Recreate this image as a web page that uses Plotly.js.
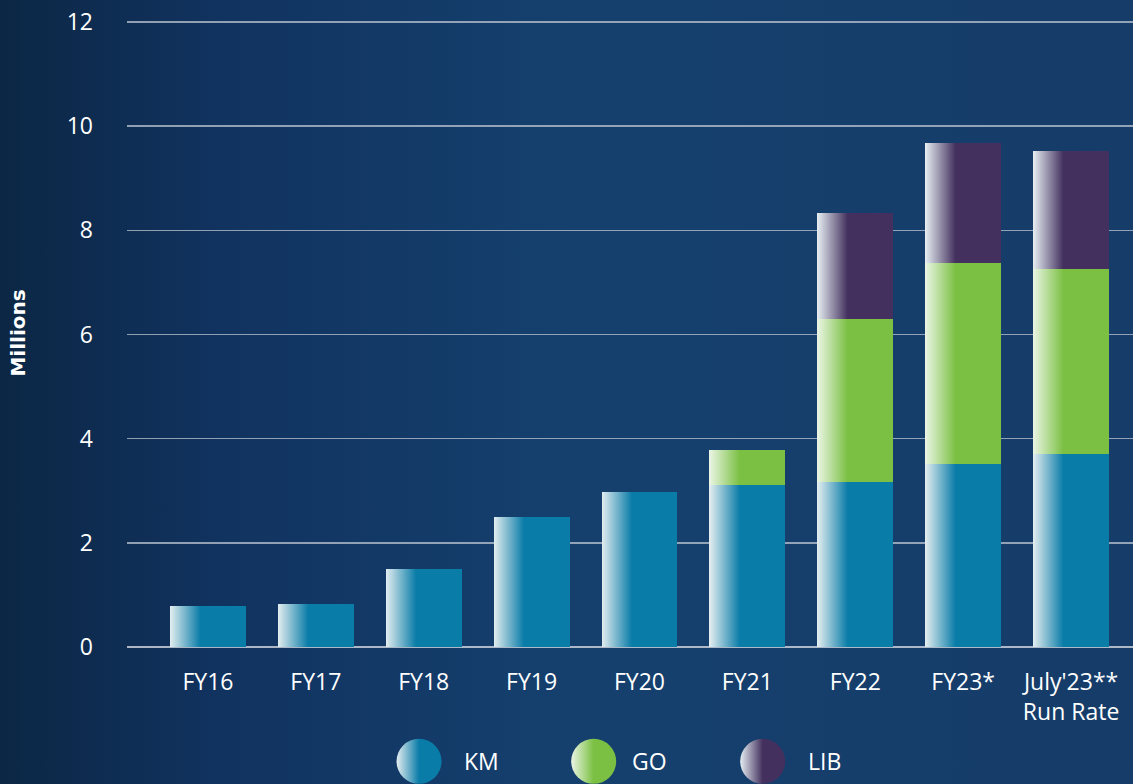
<!DOCTYPE html>
<html><head><meta charset="utf-8">
<script src="https://cdn.plot.ly/plotly-3.0.1.min.js"></script>
<style>
html,body{margin:0;padding:0;width:1133px;height:784px;overflow:hidden;
background:linear-gradient(90deg,#0c2745 0%,#113360 20%,#15406e 50%,#163c69 100%);}
#chart{width:1133px;height:784px;}
</style>
</head><body><div id="chart"></div>
<script>
const categories = ['FY16','FY17','FY18','FY19','FY20','FY21','FY22','FY23*',"July'23**<br>Run Rate"];
const kmValues  = [0.78, 0.83, 1.50, 2.50, 2.98, 3.11, 3.17, 3.51, 3.71];
const goValues  = [null, null, null, null, null, 0.67, 3.13, 3.86, 3.55];
const libValues = [null, null, null, null, null, null, 2.03, 2.31, 2.26];
const seriesNames = ['KM','GO','LIB'];
const seriesColors = ['#0a7ca8','#7bc043','#43305e'];
const seriesLight = ['#e4eef0','#eaf5e4','#e6eef2'];
const yTicks = [0,2,4,6,8,10,12];

const FONT = '"Open Sans", "Noto Sans", sans-serif';
const allValues = [kmValues, goValues, libValues];

const traces = allValues.map((vals, i) => ({
  type: 'bar', x: categories, y: vals, name: seriesNames[i],
  marker: {color: seriesColors[i], line: {width: 0}},
  showlegend: false, hoverinfo: 'skip'
}));

// custom legend (big gradient circles)
const legendX = [0.2903, 0.4639, 0.6319];
const legendTextX = [0.333, 0.5, 0.675];
const legendY = -0.1824;
const shapes = seriesNames.map((n, i) => ({
  type: 'circle', xref: 'paper', yref: 'paper',
  xsizemode: 'pixel', ysizemode: 'pixel',
  xanchor: legendX[i], yanchor: legendY,
  x0: -22.5, x1: 22.5, y0: -22.5, y1: 22.5,
  fillcolor: seriesColors[i], line: {width: 0}, layer: 'above'
}));
const annotations = seriesNames.map((n, i) => ({
  text: n, xref: 'paper', yref: 'paper', x: legendTextX[i], y: legendY,
  xanchor: 'left', yanchor: 'middle', showarrow: false,
  font: {family: FONT, size: 23, color: '#ffffff'}
}));
annotations.push({
  text: '<b>Millions</b>', xref: 'paper', yref: 'paper', x: -0.1093, y: 0.5,
  xanchor: 'center', yanchor: 'middle', textangle: -90, showarrow: false,
  font: {family: '"DejaVu Sans", sans-serif', size: 20, color: '#ffffff'}
});

const layout = {
  width: 1133, height: 784,
  margin: {l: 127, r: 0, t: 20, b: 137},
  paper_bgcolor: 'rgba(0,0,0,0)', plot_bgcolor: 'rgba(0,0,0,0)',
  barmode: 'stack', bargap: 0.296,
  font: {family: FONT, color: '#ffffff', size: 23},
  xaxis: {
    type: 'category', range: [-0.75, 8.574], showgrid: false, zeroline: false,
    showline: false, ticks: '', ticklabelstandoff: 19,
    tickfont: {family: FONT, size: 23, color: '#ffffff'}, fixedrange: true
  },
  yaxis: {
    range: [0, 12.04], tickvals: yTicks, showgrid: true,
    gridcolor: 'rgba(190,198,210,0.75)', gridwidth: 1.5,
    zeroline: true, zerolinecolor: 'rgba(200,206,216,0.85)', zerolinewidth: 1.5,
    showline: false, ticks: '', ticklabelstandoff: 33,
    tickfont: {family: FONT, size: 23, color: '#ffffff'}, fixedrange: true
  },
  shapes: shapes,
  annotations: annotations
};

function addGradients(gd) {
  const svgNS = 'http://www.w3.org/2000/svg';
  const svg = gd.querySelector('svg.main-svg');
  let defs = svg.querySelector('defs');
  if (!defs) { defs = document.createElementNS(svgNS, 'defs'); svg.insertBefore(defs, svg.firstChild); }
  seriesColors.forEach((c, i) => {
    [['barGrad', 0.40], ['circGrad', 0.50]].forEach(([prefix, stopAt]) => {
      const lg = document.createElementNS(svgNS, 'linearGradient');
      lg.setAttribute('id', prefix + i);
      lg.setAttribute('x1', '0'); lg.setAttribute('x2', '1');
      lg.setAttribute('y1', '0'); lg.setAttribute('y2', '0');
      const s0 = document.createElementNS(svgNS, 'stop');
      s0.setAttribute('offset', '0'); s0.setAttribute('stop-color', seriesLight[i]);
      const s1 = document.createElementNS(svgNS, 'stop');
      s1.setAttribute('offset', String(stopAt)); s1.setAttribute('stop-color', c);
      const s2 = document.createElementNS(svgNS, 'stop');
      s2.setAttribute('offset', '1'); s2.setAttribute('stop-color', c);
      lg.appendChild(s0); lg.appendChild(s1); lg.appendChild(s2);
      defs.appendChild(lg);
    });
  });
  const barTraces = gd.querySelectorAll('.barlayer .trace');
  barTraces.forEach((t, i) => {
    t.querySelectorAll('path').forEach(p => { p.style.fill = 'url(#barGrad' + i + ')'; });
  });
  const shapePaths = gd.querySelectorAll('.layer-above .shapelayer path');
  shapePaths.forEach((p, i) => { if (i < 3) p.style.fill = 'url(#circGrad' + i + ')'; });
}

Plotly.newPlot('chart', traces, layout, {displayModeBar: false, staticPlot: true})
  .then(gd => addGradients(gd));
</script>
</body></html>
